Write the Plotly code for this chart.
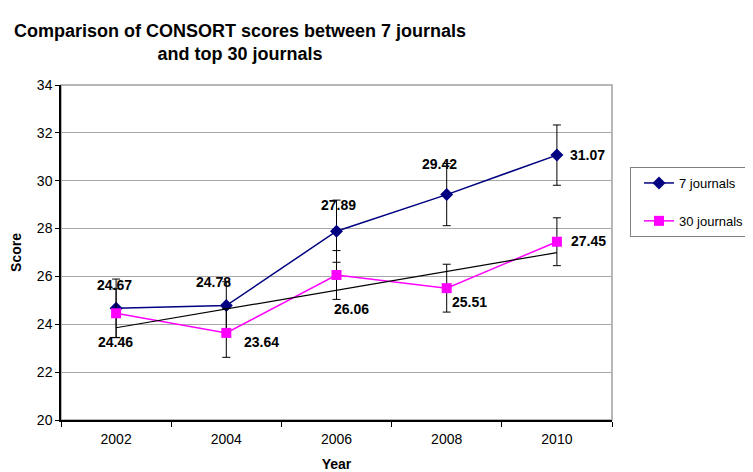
import plotly.graph_objects as go
import numpy as np

years = ["2002", "2004", "2006", "2008", "2010"]
j7_scores = [24.67, 24.78, 27.89, 29.42, 31.07]
j7_err = [1.22, 1.0, 1.3, 1.3, 1.26]
j30_scores = [24.46, 23.64, 26.06, 25.51, 27.45]
j30_err = [1.02, 1.02, 1.02, 1.0, 1.0]
y_ticks = [20, 22, 24, 26, 28, 30, 32, 34]

# linear trend of the 30-journal series
xi = np.arange(len(years))
slope, icpt = np.polyfit(xi, j30_scores, 1)
trend = list(icpt + slope * xi)

W, H = 745, 464  # page body has an 8px margin

fig = go.Figure()
fig.add_trace(go.Scatter(
    x=years, y=j7_scores, name="7 journals", mode="lines+markers",
    line=dict(color="#000080", width=1.5),
    marker=dict(symbol="diamond", size=10, color="#000080"),
    error_y=dict(type="data", array=j7_err, color="black", thickness=1, width=4),
    legendgroup="a",
))
fig.add_trace(go.Scatter(
    x=years, y=j30_scores, name="30 journals", mode="lines+markers",
    line=dict(color="#FF00FF", width=1.5),
    marker=dict(symbol="square", size=10, color="#FF00FF"),
    error_y=dict(type="data", array=j30_err, color="black", thickness=1, width=4),
    legendgroup="b",
))
fig.add_trace(go.Scatter(
    x=years, y=trend, mode="lines", line=dict(color="black", width=1.2),
    showlegend=False, hoverinfo="skip",
))

lab_font = dict(family="Liberation Sans, Arial, sans-serif", size=14, color="black", weight="bold")
# label offsets (px) per point
j7_off = [(-2, 23), (-13, 24), (2, 26), (-7, 31), (11, 0)]
j7_anchor = ["center", "center", "center", "center", "left"]
j30_off = [(-1, -29), (16, -9), (15, -34), (3, -14), (12, 1)]
j30_anchor = ["center", "left", "center", "left", "left"]
for i, yr in enumerate(years):
    dx, dy = j7_off[i]
    fig.add_annotation(x=i, y=j7_scores[i], text=f"{j7_scores[i]:.2f}", showarrow=False,
                       xanchor=j7_anchor[i], yanchor="middle", xshift=dx, yshift=dy, font=lab_font)
    dx, dy = j30_off[i]
    fig.add_annotation(x=i, y=j30_scores[i], text=f"{j30_scores[i]:.2f}", showarrow=False,
                       xanchor=j30_anchor[i], yanchor="middle", xshift=dx, yshift=dy, font=lab_font)

fig.update_layout(
    width=W, height=H,
    margin=dict(l=53, r=141, t=77, b=52, autoexpand=False),
    paper_bgcolor="white", plot_bgcolor="white",
    font=dict(family="Liberation Sans, Arial, sans-serif", size=14, color="black"),
    title=dict(
        text="Comparison of CONSORT scores between 7 journals<br>and top 30 journals",
        x=(240 - 8) / W, xanchor="center", y=1 - (37 - 8) / H, yanchor="middle",
        font=dict(family="Liberation Sans, Arial, sans-serif",
                  size=18, color="black", weight="bold"),
    ),
    xaxis=dict(
        type="category", range=[-0.5, 4.5], showline=True, linecolor="black", linewidth=1.5,
        ticks="outside", tickson="boundaries", ticklen=5, tickcolor="black",
        showgrid=False, mirror=False, zeroline=False, tickangle=0, automargin=False,
        ticklabelstandoff=5,
        title=dict(text="Year", font=dict(size=14, weight="bold"), standoff=18),
        tickfont=dict(size=14),
    ),
    yaxis=dict(
        range=[20, 34], tickvals=y_ticks, showline=True, linecolor="black", linewidth=1.5,
        ticks="outside", ticklen=4, tickcolor="black", automargin=False,
        showgrid=True, gridcolor="#a8a8a8", gridwidth=1, zeroline=False,
        title=dict(text="Score", font=dict(size=14, weight="bold"), standoff=12),
        tickfont=dict(size=14),
    ),
    legend=dict(
        x=(630 - 61) / 551, xanchor="left", y=(420 - 167) / 335, yanchor="top",
        xref="paper", yref="paper",
        bordercolor="#808080", borderwidth=1, bgcolor="white",
        font=dict(size=13), tracegroupgap=18, traceorder="grouped",
        itemwidth=30, indentation=8,
    ),
    showlegend=True,
)
# grey top/right border of plot area
fig.add_shape(type="rect", xref="paper", yref="paper", x0=0, x1=1, y0=0, y1=1,
              line=dict(color="#a0a0a0", width=1.5), layer="below")

fig.write_html("out.html")
